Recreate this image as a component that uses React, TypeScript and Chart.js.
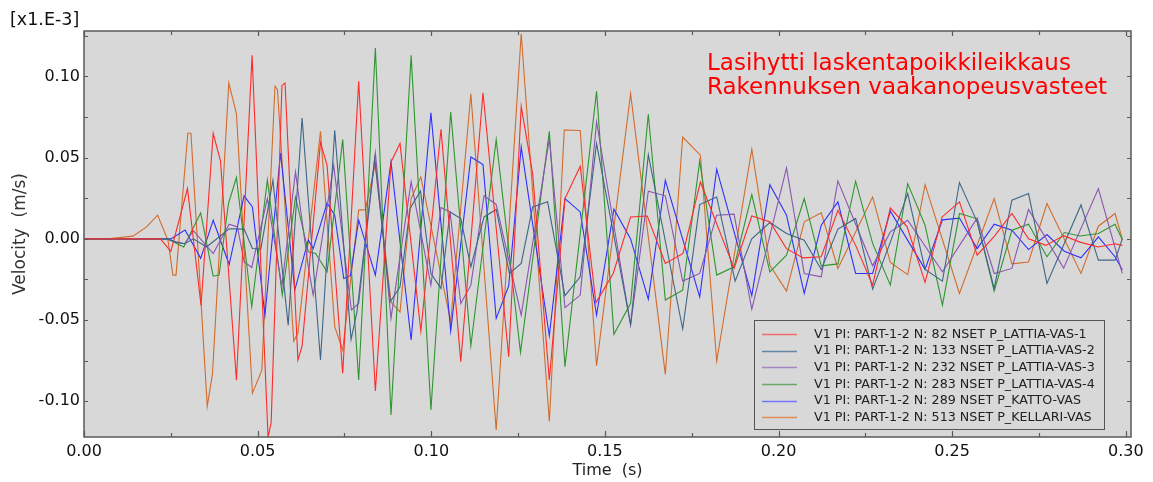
import React, { useEffect, useRef } from 'react';
import { Chart, registerables } from 'chart.js';

Chart.register(...registerables);

// ---- data ----
const xTicks = [0, 0.05, 0.1, 0.15, 0.2, 0.25, 0.3];
const yTicks = [-0.1, -0.05, 0, 0.05, 0.1];
const xMinor = [0.025, 0.075, 0.125, 0.175, 0.225, 0.275];
const yMinor = [-0.075, -0.025, 0.025, 0.075, 0.125];

const seriesLabels = [
  'V1 PI: PART-1-2 N: 82 NSET P_LATTIA-VAS-1',
  'V1 PI: PART-1-2 N: 133 NSET P_LATTIA-VAS-2',
  'V1 PI: PART-1-2 N: 232 NSET P_LATTIA-VAS-3',
  'V1 PI: PART-1-2 N: 283 NSET P_LATTIA-VAS-4',
  'V1 PI: PART-1-2 N: 289 NSET P_KATTO-VAS',
  'V1 PI: PART-1-2 N: 513 NSET P_KELLARI-VAS',
];
const seriesColors = ['#ff2a2a', '#3d6688', '#8a55b0', '#2f962f', '#2f2fff', '#d26c2c'];
const legendColors = ['#f06a6a', '#6487a6', '#a585c4', '#6aa86a', '#7474ff', '#e08a58'];

const lattia1: [number, number][] = [
  [0, 0], [0.022, 0], [0.025, -0.0077], [0.0298, 0.031], [0.0337, -0.041], [0.0372, 0.065], [0.0393, 0.048],
  [0.0439, -0.087], [0.0484, 0.113], [0.053, -0.122], [0.0539, -0.113], [0.057, 0.0945], [0.0579, 0.096],
  [0.0616, -0.0746], [0.0628, -0.066], [0.0681, 0.0593], [0.07, 0.0453], [0.0745, -0.0828], [0.0791, 0.097],
  [0.0839, -0.0937], [0.0884, 0.0474], [0.091, 0.0587], [0.097, -0.0568], [0.1028, 0.0675], [0.1085, -0.0756],
  [0.1149, 0.09], [0.1223, -0.0726], [0.1259, 0.0816], [0.1292, 0.04], [0.134, -0.0869], [0.1385, 0.0248],
  [0.1429, 0.0447], [0.1474, -0.0393], [0.1524, -0.0213], [0.1574, 0.0135], [0.1622, 0.0141], [0.1674, -0.0151],
  [0.1725, -0.009], [0.1775, 0.035], [0.1872, -0.0182], [0.1923, 0.0141], [0.1975, 0.0105], [0.2023, -0.006],
  [0.2071, -0.0117], [0.2123, -0.011], [0.2171, 0.0176], [0.2222, -0.004], [0.2271, -0.0285], [0.2322, 0.019],
  [0.237, 0.0076], [0.2422, -0.0268], [0.2471, 0.0135], [0.2521, 0.0228], [0.2572, -0.01], [0.262, 0.0012],
  [0.2672, 0.0156], [0.272, 0.0], [0.277, -0.004], [0.2821, 0.002], [0.2868, -0.002], [0.2921, -0.005],
  [0.2969, -0.003], [0.299, -0.004],
];

const lattia2: [number, number][] = [
  [0, 0], [0.024, 0], [0.0265, -0.002], [0.029, -0.003], [0.0315, 0.0], [0.0353, -0.005], [0.0418, 0.0062],
  [0.0461, 0.006], [0.0485, -0.0059], [0.0509, -0.0063], [0.0544, 0.0361], [0.0588, -0.0531], [0.0628, 0.0744],
  [0.0681, -0.0746], [0.0722, 0.0669], [0.0769, -0.0619], [0.0786, -0.045], [0.0837, 0.0494], [0.0882, -0.0387],
  [0.091, -0.0295], [0.0939, 0.0187], [0.0969, 0.0295], [0.0999, -0.0213], [0.1028, -0.0305], [0.1054, 0.0166],
  [0.1085, 0.0125], [0.1114, -0.0172], [0.1152, 0.0135], [0.1187, 0.0181], [0.1225, -0.0213], [0.1259, -0.0151],
  [0.1292, 0.0197], [0.1335, 0.0228], [0.1385, -0.035], [0.1429, -0.0234], [0.1476, 0.0587], [0.1574, -0.0527],
  [0.1625, 0.0519], [0.1724, -0.0555], [0.1773, 0.0211], [0.1822, 0.0258], [0.1875, -0.026], [0.1923, 0.0],
  [0.1975, 0.0101], [0.2023, 0.0033], [0.2074, -0.0008], [0.2123, -0.0188], [0.2171, 0.006], [0.2222, 0.0126],
  [0.2271, -0.031], [0.2322, -0.002], [0.2372, 0.0279], [0.2422, -0.0188], [0.2472, -0.026], [0.2521, 0.0347],
  [0.2572, 0.0105], [0.2621, -0.0305], [0.2672, 0.0238], [0.272, 0.0279], [0.2773, -0.0274], [0.2871, 0.0209],
  [0.2921, -0.0131], [0.2969, -0.0131], [0.299, 0.0],
];

const lattia3: [number, number][] = [
  [0, 0], [0.024, 0], [0.0265, -0.002], [0.029, -0.003], [0.0315, 0.005], [0.0372, -0.009], [0.0418, 0.009],
  [0.0442, 0.0074], [0.0461, -0.0141], [0.0483, -0.0176], [0.0528, 0.0248], [0.057, -0.029], [0.0609, 0.0412],
  [0.0646, -0.0172], [0.066, -0.0346], [0.0719, 0.0453], [0.077, -0.0438], [0.0791, -0.0398], [0.0839, 0.0529],
  [0.0884, -0.049], [0.0942, 0.0351], [0.0999, -0.0285], [0.1028, 0.0193], [0.1054, 0.0166], [0.1085, -0.0398],
  [0.1114, -0.0285], [0.1152, 0.0265], [0.1187, 0.0212], [0.1259, -0.0469], [0.134, 0.0617], [0.1385, -0.0424],
  [0.1429, -0.0346], [0.1476, 0.072], [0.1574, -0.0531], [0.1625, 0.0293], [0.1674, 0.0265], [0.1724, -0.026],
  [0.1773, -0.0213], [0.1822, 0.0146], [0.1872, 0.0152], [0.1923, -0.0433], [0.2023, 0.0437], [0.2074, -0.0213],
  [0.2123, -0.0234], [0.2171, 0.0357], [0.2271, -0.0166], [0.2322, 0.0043], [0.2372, 0.0115], [0.2472, -0.0203],
  [0.2572, 0.0128], [0.2621, -0.0213], [0.2672, -0.0182], [0.272, 0.0181], [0.2821, -0.018], [0.2921, 0.031],
  [0.299, -0.0213],
];

const lattia4: [number, number][] = [
  [0, 0], [0.024, 0], [0.0287, -0.005], [0.0336, 0.016], [0.0372, -0.023], [0.0389, -0.0223], [0.0416, 0.0218],
  [0.0439, 0.0378], [0.0483, -0.0418], [0.0528, 0.0361], [0.0571, -0.0346], [0.0609, 0.0258], [0.0646, -0.008],
  [0.0667, -0.009], [0.07, -0.0203], [0.0745, 0.0611], [0.0791, -0.0869], [0.0839, 0.1175], [0.0884, -0.1084],
  [0.0942, 0.113], [0.0999, -0.1054], [0.1056, 0.0781], [0.1114, -0.0658], [0.1187, 0.0611], [0.1257, -0.0699],
  [0.134, 0.0662], [0.1385, -0.0787], [0.1476, 0.0908], [0.1526, -0.0588], [0.1574, -0.0397], [0.1625, 0.0767],
  [0.1674, -0.0377], [0.1724, -0.0316], [0.1773, 0.0478], [0.1822, -0.0223], [0.1872, -0.0172], [0.1923, 0.0273],
  [0.1975, -0.0203], [0.2023, -0.01], [0.2074, 0.0248], [0.2123, -0.0166], [0.2171, -0.0154], [0.2222, 0.0355],
  [0.2271, -0.0028], [0.2322, -0.0285], [0.2372, 0.034], [0.2422, 0.0084], [0.2472, -0.0408], [0.2521, 0.0156],
  [0.257, 0.0125], [0.2621, -0.0322], [0.2672, 0.0053], [0.272, 0.009], [0.2773, -0.011], [0.2823, 0.0039],
  [0.2868, 0.0018], [0.2921, 0.0033], [0.2969, 0.009], [0.299, -0.0006],
];

const katto: [number, number][] = [
  [0, 0], [0.025, 0], [0.0291, 0.0054], [0.0336, -0.012], [0.0372, 0.0115], [0.0418, -0.0158], [0.0461, 0.0265],
  [0.0485, 0.0197], [0.0521, -0.047], [0.0566, 0.0529], [0.0607, -0.0315], [0.0646, -0.0008], [0.066, -0.006],
  [0.07, 0.0221], [0.0722, 0.0146], [0.0748, -0.0244], [0.0767, -0.0227], [0.0791, 0.0115], [0.0839, -0.0223],
  [0.0884, 0.0474], [0.0942, -0.0623], [0.0999, 0.0777], [0.1056, -0.0568], [0.1114, 0.0504], [0.1149, 0.0457],
  [0.1187, -0.049], [0.1223, -0.029], [0.1259, 0.0566], [0.134, -0.0597], [0.1385, 0.0248], [0.1429, 0.0166],
  [0.1476, -0.0469], [0.1526, 0.0183], [0.1574, 0.0], [0.1625, -0.0371], [0.1674, 0.0361], [0.1773, -0.0357],
  [0.1822, 0.0429], [0.1923, -0.035], [0.1975, 0.0334], [0.2023, 0.0146], [0.2074, -0.0336], [0.2123, 0.0084],
  [0.2171, 0.0228], [0.2222, -0.0213], [0.2271, -0.0213], [0.2322, 0.0171], [0.2422, -0.0188], [0.2472, 0.0117],
  [0.2521, 0.0128], [0.2572, -0.006], [0.2621, 0.009], [0.2672, 0.0053], [0.272, -0.0066], [0.2773, 0.0027],
  [0.2823, -0.0076], [0.2871, -0.0117], [0.2921, 0.0012], [0.2969, -0.011], [0.299, -0.019],
];

const kellari: [number, number][] = [
  [0, 0], [0.0075, 0.0002], [0.0141, 0.0017], [0.018, 0.0074], [0.0212, 0.0146], [0.0242, -0.001],
  [0.0256, -0.0223], [0.0265, -0.0223], [0.0299, 0.065], [0.0308, 0.065], [0.0355, -0.103], [0.037, -0.083],
  [0.0417, 0.096], [0.0439, 0.077], [0.0485, -0.095], [0.0512, -0.081], [0.055, 0.094], [0.0557, 0.092],
  [0.0604, -0.063], [0.0616, -0.058], [0.0681, 0.0662], [0.0722, -0.054], [0.0745, -0.0685], [0.0791, 0.0177],
  [0.081, 0.018], [0.0839, 0.046], [0.0884, -0.0391], [0.091, -0.045], [0.0942, 0.0248], [0.097, 0.0381],
  [0.1056, -0.051], [0.1114, 0.0894], [0.1187, -0.1177], [0.1259, 0.1263], [0.134, -0.1125], [0.1383, 0.067],
  [0.1429, 0.0667], [0.1476, -0.0781], [0.1574, 0.0894], [0.1674, -0.0834], [0.1724, 0.0627], [0.1775, 0.0515],
  [0.1822, -0.0752], [0.1923, 0.0552], [0.1975, -0.0162], [0.2023, -0.0322], [0.2074, 0.0105], [0.2123, 0.016],
  [0.2171, -0.0182], [0.2271, 0.0258], [0.2322, -0.0145], [0.2372, -0.022], [0.2422, 0.0334], [0.2521, -0.0336],
  [0.2621, 0.0248], [0.2672, -0.0154], [0.272, -0.0142], [0.2773, 0.0218], [0.2871, -0.0213], [0.2921, 0.0078],
  [0.2969, 0.0156], [0.299, 0.0],
];

const seriesData = [lattia1, lattia2, lattia3, lattia4, katto, kellari];

const annotationLines = ['Lasihytti laskentapoikkileikkaus', 'Rakennuksen vaakanopeusvasteet'];
const scaleNote = '[x1.E-3]';

const FONT = '"DejaVu Sans", Verdana, sans-serif';
const PLOT_BG = '#d8d8d8';
const FRAME = '#5a5a5a';

const decorPlugin = {
  id: 'decor',
  beforeDraw(chart: any) {
    const { ctx, chartArea: a } = chart;
    ctx.save();
    ctx.fillStyle = PLOT_BG;
    ctx.fillRect(a.left, a.top, a.right - a.left, a.bottom - a.top);
    ctx.restore();
  },
  afterDatasetsDraw(chart: any) {
    const { ctx, chartArea: a } = chart;
    const xs = chart.scales.x;
    const ys = chart.scales.y;
    ctx.save();
    ctx.strokeStyle = FRAME;
    ctx.lineWidth = 1.5;
    ctx.strokeRect(a.left, a.top, a.right - a.left, a.bottom - a.top);
    ctx.lineWidth = 1.2;
    ctx.beginPath();
    for (const v of xTicks) {
      const p = Math.round(xs.getPixelForValue(v)) + 0.5;
      ctx.moveTo(p, a.bottom); ctx.lineTo(p, a.bottom - 6);
      ctx.moveTo(p, a.top); ctx.lineTo(p, a.top + 5);
    }
    for (const v of xMinor) {
      const p = Math.round(xs.getPixelForValue(v)) + 0.5;
      ctx.moveTo(p, a.bottom); ctx.lineTo(p, a.bottom - 4);
      ctx.moveTo(p, a.top); ctx.lineTo(p, a.top + 4);
    }
    for (const v of [...yTicks, ...yMinor]) {
      const p = Math.round(ys.getPixelForValue(v)) + 0.5;
      ctx.moveTo(a.left, p); ctx.lineTo(a.left + 4, p);
      ctx.moveTo(a.right, p); ctx.lineTo(a.right - 4, p);
    }
    ctx.stroke();

    const bx = 754.5, by = 320.5, bw = 350, bh = 109;
    ctx.fillStyle = PLOT_BG;
    ctx.fillRect(bx, by, bw, bh);
    ctx.strokeStyle = '#555';
    ctx.lineWidth = 1;
    ctx.strokeRect(bx, by, bw, bh);
    ctx.font = `12.7px ${FONT}`;
    ctx.textBaseline = 'middle';
    ctx.textAlign = 'left';
    seriesLabels.forEach((lab, i) => {
      const yy = 334 + i * 16.65;
      ctx.strokeStyle = legendColors[i];
      ctx.lineWidth = 1.5;
      ctx.beginPath();
      ctx.moveTo(762, Math.round(yy) + 0.5);
      ctx.lineTo(797, Math.round(yy) + 0.5);
      ctx.stroke();
      ctx.fillStyle = '#222';
      ctx.fillText(lab, 814, yy + 0.5);
    });

    ctx.fillStyle = '#ff0000';
    ctx.font = `23px ${FONT}`;
    ctx.textBaseline = 'alphabetic';
    ctx.fillText(annotationLines[0], 707, 70);
    ctx.fillText(annotationLines[1], 707, 93.5);
    ctx.restore();
  },
  afterDraw(chart: any) {
    const { ctx } = chart;
    ctx.save();
    ctx.fillStyle = '#111';
    ctx.font = `17.5px ${FONT}`;
    ctx.textBaseline = 'middle';
    ctx.textAlign = 'left';
    ctx.fillText(scaleNote, 10, 20);
    ctx.restore();
  },
};

export default function App() {
  const ref = useRef<HTMLCanvasElement | null>(null);
  useEffect(() => {
    if (!ref.current) return;
    Chart.defaults.font.family = FONT;
    const chart = new Chart(ref.current, {
      type: 'line',
      data: {
        datasets: seriesData.map((d, i) => ({
          label: seriesLabels[i],
          data: d.map(([x, y]) => ({ x, y })),
          borderColor: seriesColors[i],
          backgroundColor: seriesColors[i],
          borderWidth: 1.1,
          pointRadius: 0,
          tension: 0,
          fill: false,
        })),
      },
      options: {
        responsive: false,
        animation: false,
        events: [],
        layout: { padding: { left: 0, top: 31, right: 22, bottom: 0 } },
        plugins: { legend: { display: false }, tooltip: { enabled: false }, title: { display: false } },
        scales: {
          x: {
            type: 'linear',
            min: 0,
            max: 0.3015,
            afterBuildTicks: (s: any) => { s.ticks = xTicks.map((v) => ({ value: v })); },
            afterFit: (s: any) => { s.height = 45; },
            grid: { display: false, drawTicks: false },
            border: { display: false },
            ticks: {
              color: '#111',
              font: { size: 16, family: FONT },
              padding: 5,
              maxRotation: 0,
              callback: (v: any) => Number(v).toFixed(2),
            },
            title: { display: true, text: 'Time  (s)', color: '#222', font: { size: 16, family: FONT }, padding: { top: 0, bottom: 2 } },
          },
          y: {
            type: 'linear',
            min: -0.122,
            max: 0.128,
            afterBuildTicks: (s: any) => { s.ticks = yTicks.map((v) => ({ value: v })); },
            afterFit: (s: any) => { s.width = 84; },
            grid: { display: false, drawTicks: false },
            border: { display: false },
            ticks: {
              color: '#111',
              font: { size: 16, family: FONT },
              padding: 4,
              callback: (v: any) => Number(v).toFixed(2),
            },
            title: { display: true, text: 'Velocity  (m/s)', color: '#333', font: { size: 17, family: FONT }, padding: { top: 10, bottom: 0 } },
          },
        },
      },
      plugins: [decorPlugin],
    });
    return () => chart.destroy();
  }, []);
  return (
    <div style={{ position: 'absolute', left: 0, top: 0, width: 1153, height: 482, background: '#fff' }}>
      <canvas ref={ref} width={1153} height={482} style={{ display: 'block' }} />
    </div>
  );
}
